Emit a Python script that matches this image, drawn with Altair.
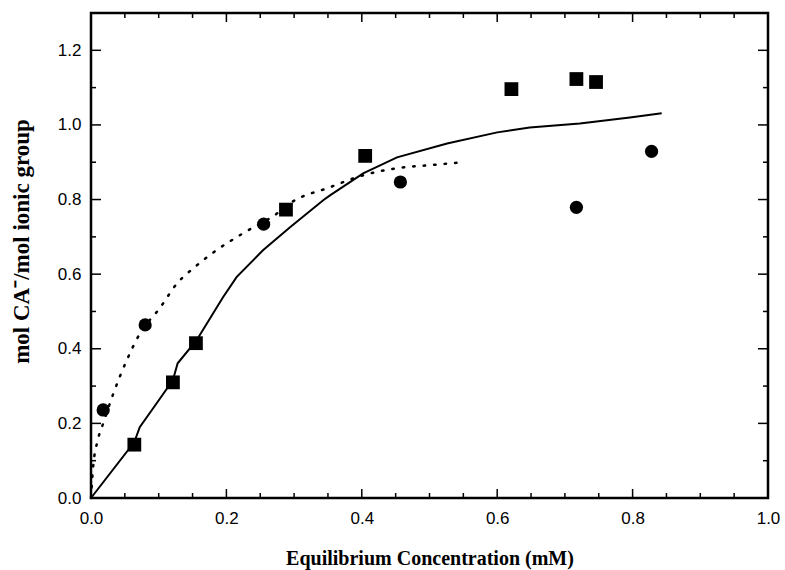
import altair as alt
import pandas as pd

# Data
sq_x = [0.064, 0.121, 0.155, 0.288, 0.405, 0.621, 0.717, 0.746]
sq_y = [0.143, 0.310, 0.415, 0.773, 0.917, 1.096, 1.123, 1.115]

ci_x = [0.018, 0.080, 0.255, 0.457, 0.717, 0.828]
ci_y = [0.236, 0.464, 0.734, 0.847, 0.779, 0.929]

solid_x = [0.0, 0.064, 0.072, 0.097, 0.121, 0.128, 0.156, 0.195, 0.215, 0.254, 0.294,
           0.343, 0.353, 0.402, 0.452, 0.526, 0.600, 0.648, 0.722, 0.796, 0.843]
solid_y = [0.0, 0.150, 0.190, 0.254, 0.316, 0.361, 0.423, 0.538, 0.592, 0.664, 0.726,
           0.798, 0.811, 0.870, 0.913, 0.950, 0.980, 0.993, 1.004, 1.020, 1.031]

dot_x = [0.0, 0.003, 0.010, 0.018, 0.033, 0.053, 0.072, 0.102, 0.127, 0.154, 0.186,
         0.225, 0.275, 0.294, 0.353, 0.402, 0.452, 0.500, 0.550]
dot_y = [0.0, 0.080, 0.155, 0.200, 0.280, 0.370, 0.440, 0.510, 0.575, 0.620, 0.665,
         0.710, 0.763, 0.790, 0.833, 0.865, 0.884, 0.892, 0.900]

x_labels = [0.0, 0.2, 0.4, 0.6, 0.8, 1.0]
y_labels = [0.0, 0.2, 0.4, 0.6, 0.8, 1.0, 1.2]
x_minor = [0.05, 0.1, 0.15, 0.25, 0.3, 0.35, 0.45, 0.5, 0.55, 0.65, 0.7, 0.75, 0.85, 0.9, 0.95]
y_minor = [0.1, 0.3, 0.5, 0.7, 0.9, 1.1]

W, H = 677, 485

xs = alt.Scale(domain=[0, 1.0], nice=False, zero=False)
ys = alt.Scale(domain=[0, 1.3], nice=False, zero=False)

df_sq = pd.DataFrame({"x": sq_x, "y": sq_y})
df_ci = pd.DataFrame({"x": ci_x, "y": ci_y})
df_solid = pd.DataFrame({"x": solid_x, "y": solid_y, "o": range(len(solid_x))})
df_dot = pd.DataFrame({"x": dot_x, "y": dot_y, "o": range(len(dot_x))})
df_xmaj = pd.DataFrame({"x": x_labels})
df_xmin = pd.DataFrame({"x": x_minor})
df_ymaj = pd.DataFrame({"y": y_labels})
df_ymin = pd.DataFrame({"y": y_minor})

label_font = "Liberation Sans"
title_font = "Liberation Serif"

x_axis = alt.Axis(values=x_labels, format=".1f", ticks=False, domain=False, grid=False,
                  labelFont=label_font, labelFontSize=17, labelColor="black", labelPadding=12,
                  labelFlush=False, labelOverlap=False,
                  title="Equilibrium Concentration (mM)", titleFont=title_font,
                  titleFontSize=20, titleFontWeight="bold", titleColor="black", titlePadding=22)
y_axis = alt.Axis(values=y_labels, format=".1f", ticks=False, domain=False, grid=False,
                  labelFont=label_font, labelFontSize=17, labelColor="black", labelPadding=10,
                  labelFlush=False, labelOverlap=False,
                  title="mol CA\u207b/mol ionic group", titleFont=title_font,
                  titleFontSize=23, titleFontWeight="bold", titleColor="black", titlePadding=24,
                  titleY=228)

X = alt.X("x:Q", scale=xs, axis=x_axis)
Y = alt.Y("y:Q", scale=ys, axis=y_axis)

solid = alt.Chart(df_solid).mark_line(color="black", strokeWidth=2).encode(
    x=X, y=Y, order="o:Q",
)

dotted = alt.Chart(df_dot).mark_line(color="black", strokeWidth=2.5, strokeDash=[1.5, 9],
                                     strokeCap="round", interpolate="monotone").encode(
    x=X, y=Y, order="o:Q",
)

squares = alt.Chart(df_sq).mark_point(shape="square", filled=True, color="black",
                                      size=190, opacity=1).encode(x=X, y=Y)

circles = alt.Chart(df_ci).mark_point(shape="circle", filled=True, color="black",
                                      size=175, opacity=1).encode(x=X, y=Y)

def xticks(df, length, bottom=True):
    if bottom:
        y0, y1 = H, H - length
    else:
        y0, y1 = 0, length
    return alt.Chart(df).mark_rule(color="black", strokeWidth=1.5).encode(
        x=X, y=alt.value(y0), y2=alt.value(y1),
    )

def yticks(df, length, left=True):
    if left:
        x0, x1 = 0, length
    else:
        x0, x1 = W, W - length
    return alt.Chart(df).mark_rule(color="black", strokeWidth=1.5).encode(
        y=Y, x=alt.value(x0), x2=alt.value(x1),
    )

ticks = [
    xticks(df_xmaj, 9, True), xticks(df_xmin, 5, True),
    xticks(df_xmaj, 9, False), xticks(df_xmin, 5, False),
    yticks(df_ymaj, 10, True), yticks(df_ymin, 5, True),
    yticks(df_ymaj, 10, False), yticks(df_ymin, 5, False),
]

chart = alt.layer(solid, dotted, squares, circles, *ticks).properties(
    width=W, height=H,
    autosize=alt.AutoSizeParams(type="none"),
    padding={"left": 91, "top": 13, "right": 17, "bottom": 72},
    background="white",
).configure_view(stroke="black", strokeWidth=2.5)

chart.save("out.html", embed_options={"renderer": "svg", "actions": False})
